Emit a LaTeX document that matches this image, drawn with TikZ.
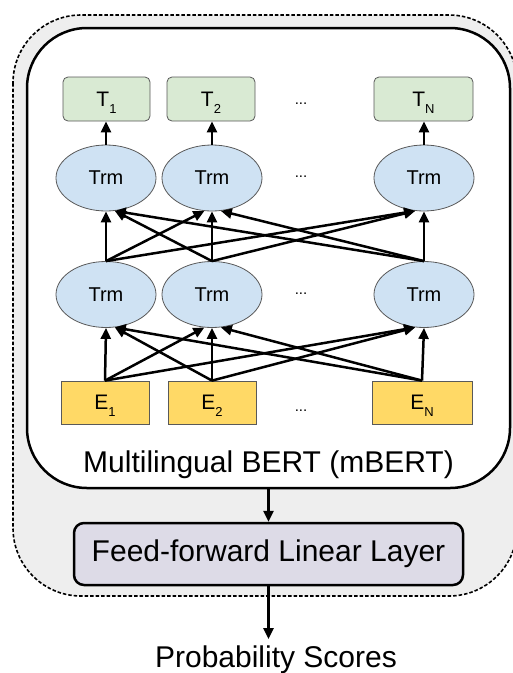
\documentclass[tikz,border=0pt]{standalone}
\usepackage{fontspec}
\setmainfont{Liberation Sans}
\usetikzlibrary{shapes.geometric,arrows.meta}
\definecolor{trmblue}{HTML}{CFE2F3}
\definecolor{tgreen}{HTML}{D9EAD3}
\definecolor{eyellow}{HTML}{FFD966}
\definecolor{ffgray}{HTML}{DDDBE7}
\definecolor{outergray}{HTML}{EEEEEE}
\definecolor{edgegray}{HTML}{595959}
\newcommand\subsc[1]{\raisebox{-7pt}[0pt][0pt]{\fontsize{13}{15}\selectfont #1}}
\begin{document}
\begin{tikzpicture}[x=1pt,y=-1pt,
  trm/.style={ellipse, draw=edgegray, line width=0.8pt, fill=trmblue,
    minimum width=100pt, minimum height=66pt, inner sep=0pt,
    font=\fontsize{20}{24}\selectfont},
  tbox/.style={rectangle, rounded corners=5pt, draw=edgegray, line width=0.8pt,
    fill=tgreen, minimum height=44pt, inner sep=0pt,
    font=\fontsize{21}{24}\selectfont},
  ebox/.style={rectangle, draw=edgegray, line width=0.8pt,
    fill=eyellow, minimum height=43pt, inner sep=0pt,
    font=\fontsize{21}{24}\selectfont},
  arr/.style={-{Triangle[length=11pt,width=10pt]}, line width=2.5pt},
  dotlabel/.style={font=\fontsize{15}{18}\selectfont, inner sep=0pt},
  bigtext/.style={font=\fontsize{30}{36}\selectfont, inner sep=2pt}
]
\useasboundingbox (0,0) rectangle (513,673);

% outer dashed container
\draw[dash pattern=on 3.5pt off 2pt, line width=1.6pt, fill=outergray, rounded corners=68pt]
  (13,15) rectangle (517,596);

% inner mBERT box
\node[draw, line width=2.5pt, fill=white, rounded corners=60pt,
  minimum width=483pt, minimum height=460pt, inner sep=0pt] (bert) at (268.5,258) {};

% output tokens
\node[tbox, minimum width=87pt] (t1) at (106.5,99) {T\subsc{1}};
\node[tbox, minimum width=88pt] (t2) at (211,99) {T\subsc{2}};
\node[tbox, minimum width=99pt] (tn) at (423.5,99) {T\subsc{N}};
\node[dotlabel] (tdots) at (301,104) {...};

% upper transformer layer
\node[trm] (u1) at (106,178) {Trm};
\node[trm] (u2) at (212,178) {Trm};
\node[trm] (un) at (424,178) {Trm};
\node[dotlabel] (udots) at (301,177) {...};

% lower transformer layer
\node[trm] (l1) at (106,294.5) {Trm};
\node[trm] (l2) at (212,294.5) {Trm};
\node[trm] (ln) at (424,294.5) {Trm};
\node[dotlabel] (ldots) at (301,294) {...};

% embeddings
\node[ebox, minimum width=88pt] (e1) at (105,402.5) {E\subsc{1}};
\node[ebox, minimum width=88pt] (e2) at (212,402.5) {E\subsc{2}};
\node[ebox, minimum width=100pt] (en) at (422,402.5) {E\subsc{N}};
\node[dotlabel] (edots) at (301,411) {...};

\node[bigtext, anchor=base] (bertlabel) at (268.5,472) {Multilingual BERT (mBERT)};

% feed-forward layer
\node[draw, line width=2.5pt, fill=ffgray, rounded corners=10pt,
  minimum width=389pt, minimum height=62pt, inner sep=0pt,
  font=\fontsize{30}{36}\selectfont] (ff) at (268.5,554) {Feed-forward Linear Layer};

\node[bigtext, anchor=base] (ps) at (276,667) {Probability Scores};

% arrows: upper Trm -> T
\draw[arr] (u1.north) -- (u1.north |- t1.south);
\draw[arr] (u2.north) -- (u2.north |- t2.south);
\draw[arr] (un.north) -- (un.north |- tn.south);

% arrows: lower Trm -> upper Trm
\draw[arr] (l1.north) -- (u1.south);
\draw[arr] (l1.north) -- (u2.257);
\draw[arr] (l1.north) -- (un.255);
\draw[arr] (l2.north) -- (u1.285);
\draw[arr] (l2.north) -- (u2.south);
\draw[arr] (l2.north) -- (un.255);
\draw[arr] (ln.north) -- (u1.285);
\draw[arr] (ln.north) -- (u2.285);
\draw[arr] (ln.north) -- (un.south);

% arrows: E -> lower Trm
\draw[arr] (e1.north) -- (l1.south);
\draw[arr] (e1.north) -- (l2.257);
\draw[arr] (e1.north) -- (ln.255);
\draw[arr] (e2.north) -- (l1.285);
\draw[arr] (e2.north) -- (l2.south);
\draw[arr] (e2.north) -- (ln.255);
\draw[arr] (en.north) -- (l1.285);
\draw[arr] (en.north) -- (l2.285);
\draw[arr] (en.north) -- (ln.south);

% bottom flow
\draw[arr] (bert.south) -- (ff.north);
\draw[arr, shorten >=4pt] (ff.south) -- (ff.south |- ps.north);
\end{tikzpicture}
\end{document}
